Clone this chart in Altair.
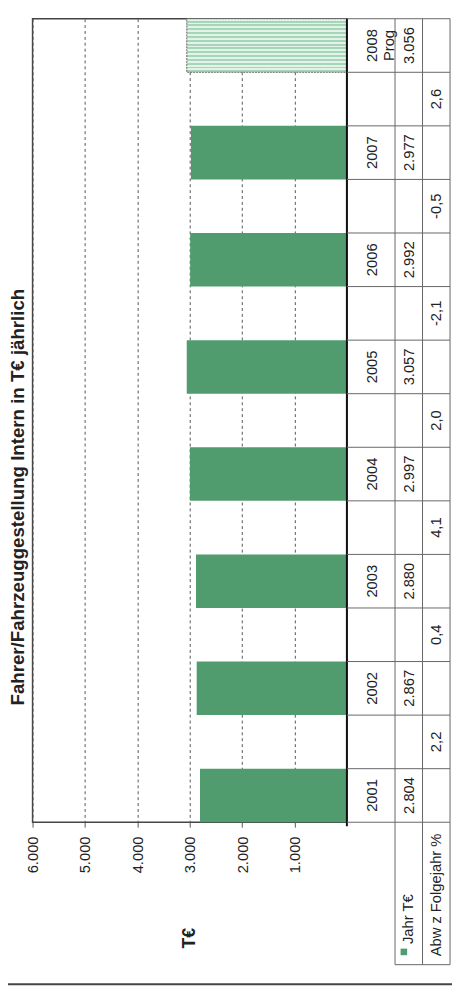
import altair as alt
import pandas as pd

# ---------------- data ----------------
years = ["2001", "2002", "2003", "2004", "2005", "2006", "2007", "2008"]
year_labels = ["2001", "2002", "2003", "2004", "2005", "2006", "2007", "2008\nProg"]
values = [2804, 2867, 2880, 2997, 3057, 2992, 2977, 3056]
value_labels = ["2.804", "2.867", "2.880", "2.997", "3.057", "2.992", "2.977", "3.056"]
kinds = ["Ist", "Ist", "Ist", "Ist", "Ist", "Ist", "Ist", "Prog"]
pct_labels = ["2,2", "0,4", "4,1", "2,0", "-2,1", "-0,5", "2,6"]
tick_values = [1000, 2000, 3000, 4000, 5000, 6000]

title_text = "Fahrer/Fahrzeuggestellung Intern in T€ jährlich"
axis_title = "T€"
row1_label = "Jahr T€"
row2_label = "Abw z Folgejahr %"

# ---------------- layout / style ----------------
W, H = 320, 818
F = "Liberation Sans"
TXT = "#222222"
GREEN = "#519c6e"
LINE = "#666666"

n_slots = 2 * len(years) - 1
bars = pd.DataFrame({
    "year": years,
    "label": year_labels,
    "value": values,
    "vlabel": value_labels,
    "kind": kinds,
    "slot": [2 * i for i in range(len(years))],
})
pcts = pd.DataFrame({"pct": pct_labels, "slot": [2 * i + 1 for i in range(len(pct_labels))]})
bounds = pd.DataFrame({"b": list(range(n_slots + 1))})
one = pd.DataFrame({"a": [0]})

xscale = alt.Scale(domain=[0, 6000], reverse=True, nice=False, zero=True)
yscale = alt.Scale(domain=[0, n_slots], nice=False, zero=False)

xaxis = alt.Axis(
    values=tick_values, format=",d", labelExpr="replace(datum.label, ',', '.')",
    labelAngle=270, labelAlign="right", labelBaseline="middle", labelFlush=False,
    labelFontSize=15, labelFont=F, labelColor=TXT, labelPadding=9,
    tickSize=5, tickColor="#555555", domain=False,
    grid=True, gridDash=[3, 3], gridColor="#555555", gridWidth=1,
    title=axis_title, titleFont=F, titleFontSize=18, titleFontWeight="bold",
    titleAngle=270, titleAlign="right", titleBaseline="middle",
    titleX=W / 2, titleY=107, titleColor=TXT,
)

# stripes for the forecast bar
stops = []
n_str = 14
for k in range(n_str):
    a = k / n_str
    m = (k + 0.5) / n_str
    b = (k + 1) / n_str
    stops += [{"offset": a, "color": "#e4f3e9"}, {"offset": m, "color": "#e4f3e9"},
              {"offset": m, "color": "#a6d6b8"}, {"offset": b, "color": "#a6d6b8"}]
stripe = {"gradient": "linear", "x1": 0, "y1": 0, "x2": 0, "y2": 1, "stops": stops}

base_bars = alt.Chart(bars).transform_calculate(top="datum.slot + 1")

bars_ist = base_bars.transform_filter(alt.datum.kind == "Ist").mark_rect(color=GREEN).encode(
    x=alt.X("value:Q", scale=xscale, axis=xaxis),
    x2=alt.datum(0),
    y=alt.Y("slot:Q", scale=yscale, axis=None),
    y2="top:Q",
)
bars_prog = base_bars.transform_filter(alt.datum.kind == "Prog").mark_rect(
    fill=stripe, stroke="#666666", strokeWidth=1, strokeDash=[2, 1]
).encode(
    x=alt.X("value:Q", scale=xscale),
    x2=alt.datum(0),
    y=alt.Y("slot:Q", scale=yscale),
    y2="top:Q",
)

# category axis line (thick)
axis_line = alt.Chart(one).mark_rule(color="#111111", strokeWidth=2).encode(
    x=alt.datum(0), y=alt.value(0), y2=alt.value(H + 4)
)

# data table grid
hlines = alt.Chart(bounds).mark_rule(color=LINE, strokeWidth=1).encode(
    y=alt.Y("b:Q", scale=yscale), x=alt.value(W), x2=alt.value(W + 105)
)
vl = []
for xx in (W + 49, W + 77, W + 105):
    vl.append(alt.Chart(one).mark_rule(color=LINE, strokeWidth=1).encode(
        x=alt.value(xx), y=alt.value(0), y2=alt.value(963)))
legend_bottom = alt.Chart(one).mark_rule(color=LINE, strokeWidth=1).encode(
    x=alt.value(W + 49), x2=alt.value(W + 105), y=alt.value(963))

frame_bottom = alt.Chart(one).mark_rule(color="#444444", strokeWidth=2).encode(
    x=alt.value(-25), x2=alt.value(W + 107), y=alt.value(983))

txt = dict(angle=270, font=F, fontSize=15, color=TXT, baseline="middle")

year_text = alt.Chart(bars).transform_calculate(mid="datum.slot + 0.5").mark_text(
    align="center", lineBreak="\n", **txt).encode(
    y=alt.Y("mid:Q", scale=yscale), x=alt.value(W + 26), text="label:N")
val_text = alt.Chart(bars).transform_calculate(mid="datum.slot + 0.5").mark_text(
    align="center", **txt).encode(
    y=alt.Y("mid:Q", scale=yscale), x=alt.value(W + 63), text="vlabel:N")
pct_text = alt.Chart(pcts).transform_calculate(mid="datum.slot + 0.5").mark_text(
    align="center", **txt).encode(
    y=alt.Y("mid:Q", scale=yscale), x=alt.value(W + 91), text="pct:N")

leg_sq = alt.Chart(one).mark_square(color=GREEN, size=45, opacity=1).encode(
    x=alt.value(W + 58), y=alt.value(950))
leg1 = alt.Chart(one).mark_text(align="left", **txt).encode(
    x=alt.value(W + 62), y=alt.value(942), text=alt.value(row1_label))
leg2 = alt.Chart(one).mark_text(align="center", **txt).encode(
    x=alt.value(W + 91), y=alt.value(892), text=alt.value(row2_label))

chart = alt.layer(
    bars_ist, bars_prog, axis_line, hlines, *vl, legend_bottom, frame_bottom,
    year_text, val_text, pct_text, leg_sq, leg1, leg2,
).properties(
    width=W, height=H,
    title=alt.TitleParams(text=title_text, orient="left", anchor="middle", font=F,
                          fontSize=19, fontWeight="bold", color=TXT, offset=-21, dx=-78),
    autosize=alt.AutoSizeParams(type="none"),
    padding={"left": 25, "top": 2, "right": 107, "bottom": 170},
).configure_view(stroke="#444444", strokeWidth=1.5)

chart.save("out.html", embed_options={"renderer": "svg", "actions": False})
